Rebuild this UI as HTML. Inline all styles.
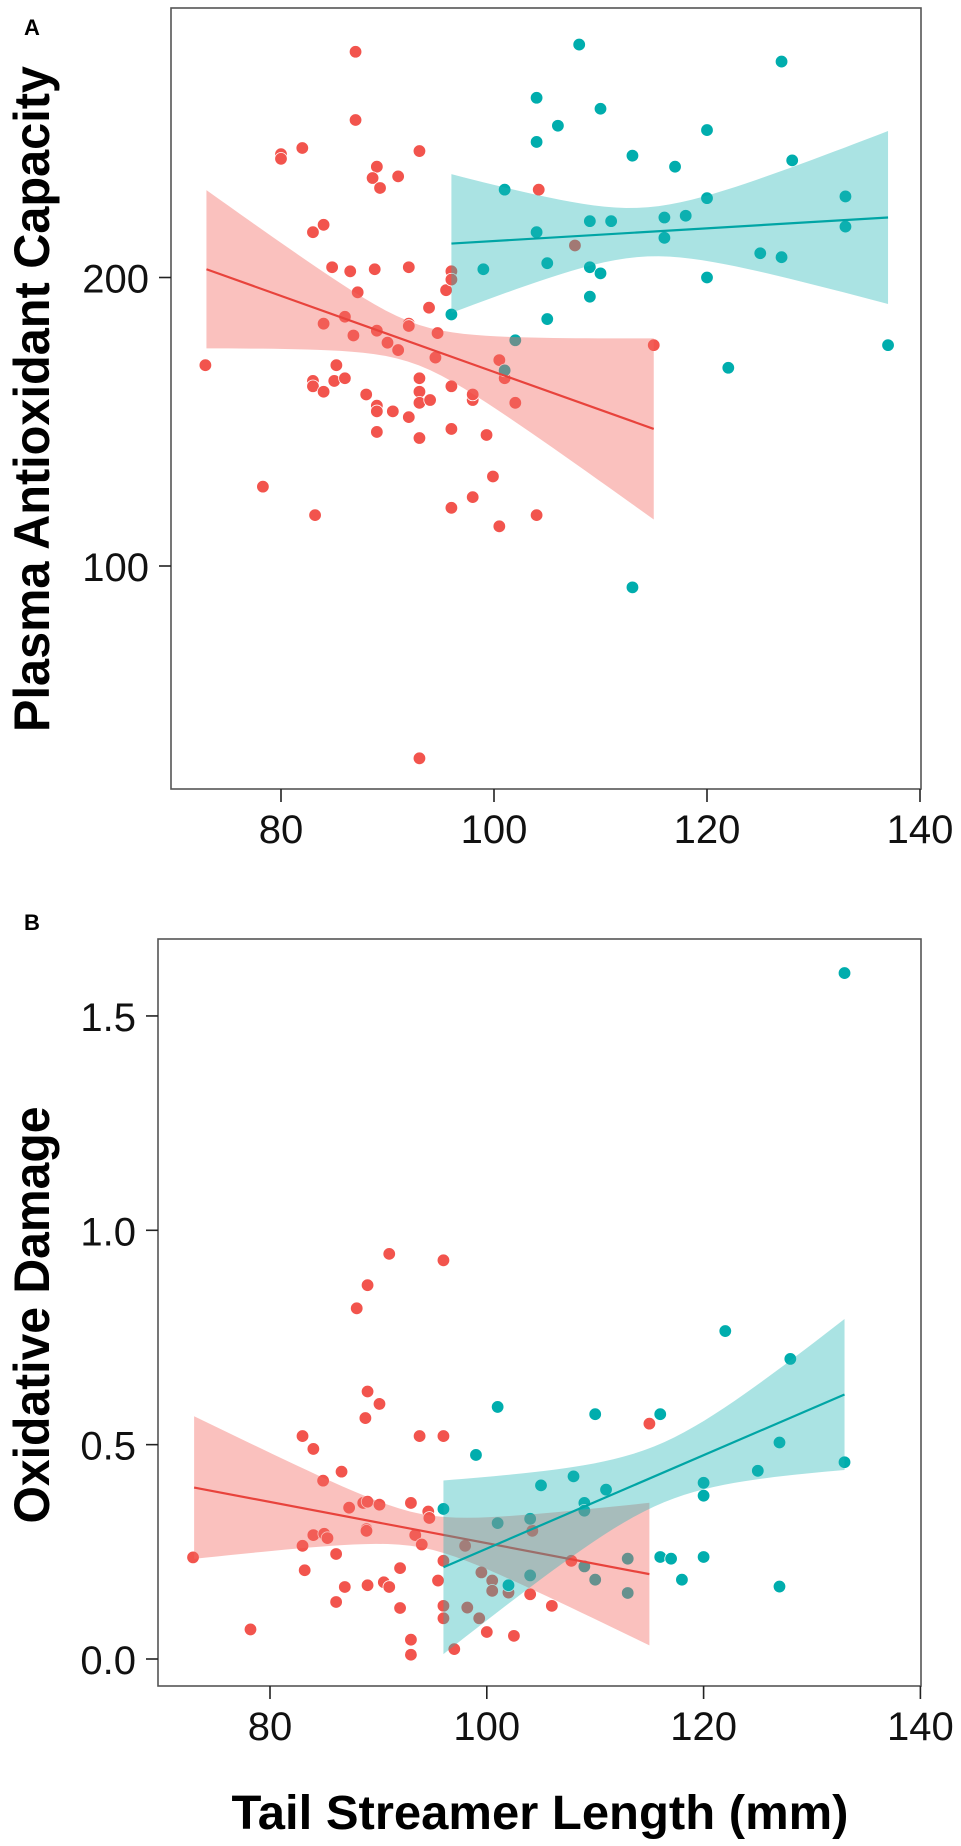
<!DOCTYPE html>
<html><head><meta charset="utf-8"><style>
html,body{margin:0;padding:0;background:#fff;}
svg{display:block;font-family:"Liberation Sans",sans-serif;}
</style></head><body>
<svg id="chart" width="961" height="1846" viewBox="0 0 961 1846" xmlns="http://www.w3.org/2000/svg">
<rect x="0" y="0" width="961" height="1846" fill="#fff"/>
<g id="panelA"></g>
<g id="panelB"></g>
<text x="24" y="35" font-size="22" font-weight="bold">A</text>
<text x="24" y="930" font-size="22" font-weight="bold">B</text>
<text transform="translate(49,399) rotate(-90)" text-anchor="middle" font-size="50" font-weight="bold" textLength="666" lengthAdjust="spacingAndGlyphs">Plasma Antioxidant Capacity</text>
<text transform="translate(49,1315) rotate(-90)" text-anchor="middle" font-size="50" font-weight="bold" textLength="417" lengthAdjust="spacingAndGlyphs">Oxidative Damage</text>
<text x="540" y="1829" text-anchor="middle" font-size="48" font-weight="bold" textLength="617" lengthAdjust="spacingAndGlyphs">Tail Streamer Length (mm)</text>
</svg>
<script>
// ---- Panel A data ----
const aRedX = [72.9,78.3,80,80,82,83,84,83.2,83,83,84,84,84.8,85.2,85,86,86,86.5,86.8,87.2,87,87,88,88.8,89,88.6,89.3,89,89,89,89,90,90.5,91,91,92,92,92,92,93,93,93,93,93,93,93.9,94,94.5,94.7,95.5,96,96,96,96,96,98,98,98,99.3,99.9,100.5,101,100.5,102,104.2,104,107.6,115];
const aRedY = [162,121,269,266,273,223,227,113,156,154,152,179,205,162,156,157,182,203,174,193,344,292,151,204,261,254,248,176,147,145,138,171,145,255,168,205,179,178,143,271,157,152,148,136,63,186,149,165,175,194,203,199,154,139,115,149,151,118,137,124,164,157,110,148,247,113,216,170];
const aTealX = [96,99,101,101,102,104,104,104,105,105,106,108,109,109,109,110,110,111,113,113,116,116,117,118,120,120,120,122,125,127,127,128,133,133,137];
const aTealY = [183,204,247,160,172,308,277,223,207,181,288,350,229,205,191,300,202,229,268,95,231,220,261,232,285,242,200,161,212,336,210,265,243,226,170];
const aYTicks = [100,200];
const xTicks = [80,100,120,140];
const aRedFit = [73,115,204,139]; const aRedBand = [92.5,0.07,0.0136];
const aTealFit = [96,137,217,231]; const aTealBand = [114,0.085,0.0125];
// ---- Panel B data ----
const bRedX = [72.9,78.2,83,84,84.9,86.6,83,83.2,84,85,85.3,86.1,86.1,86.9,87.3,88,89,89,88.8,90.1,88.6,89,90.1,88.9,88.9,89,90.5,91,91,92,92,93,93,93,93.4,93.8,94,94.6,94.7,95.5,96,96,96,96,96,97,98,98.2,99.5,99.3,100,100.5,100.5,102,102.5,104,104.2,106,107.8,115];
const bRedY = [0.237,0.069,0.52,0.49,0.416,0.437,0.264,0.207,0.289,0.292,0.282,0.245,0.133,0.168,0.353,0.818,0.872,0.624,0.562,0.595,0.364,0.367,0.36,0.303,0.299,0.172,0.179,0.168,0.945,0.212,0.119,0.364,0.045,0.01,0.289,0.52,0.267,0.344,0.329,0.183,0.93,0.52,0.229,0.124,0.095,0.023,0.264,0.12,0.202,0.095,0.063,0.183,0.159,0.155,0.054,0.151,0.299,0.124,0.229,0.549];
const bTealX = [96,99,101,101,102,104,104,105,108,109,109,109,110,110,111,113,113,116,116,117,118,120,120,120,122,125,127,127,128,133,133];
const bTealY = [0.35,0.476,0.588,0.317,0.172,0.327,0.195,0.405,0.426,0.364,0.346,0.216,0.571,0.185,0.395,0.234,0.154,0.571,0.238,0.234,0.185,0.411,0.381,0.238,0.765,0.439,0.505,0.169,0.7,1.6,0.459];
const bYTicks = [0,0.5,1,1.5];
const bYTickLabels = ["0.0","0.5","1.0","1.5"];
const bRedFit = [73,115,0.40,0.198]; const bRedBand = [94,0.039,0.0077];
const bTealFit = [96,133,0.214,0.617]; const bTealBand = [116,0.07,0.0095];

const NS="http://www.w3.org/2000/svg";
const RED="#F2544D", TEAL="#00ADAD";
function mk(parent,tag,attrs){const e=document.createElementNS(NS,tag);for(const k in attrs)e.setAttribute(k,attrs[k]);parent.appendChild(e);return e;}

const xA=x=>281+(x-80)*10.65;
const yA=v=>277.5-Math.log2(v/200)*288.5;
const xB=x=>270+(x-80)*10.84;
const yB=v=>1659-v*428.7;

function drawPanel(g,box,xs,ys,xTickVals,yTickVals,yLabels,red,teal,rFit,rBand,tFit,tBand,logY,xLabY){
  [[red[0],red[1],RED,'red-point'],[teal[0],teal[1],TEAL,'teal-point']].forEach(([X,Y,c,nm])=>{
    X.forEach((x,i)=>{
      const p=mk(g,'circle',{cx:xs(x),cy:ys(Y[i]),r:6.3,fill:c,stroke:'#fff','stroke-width':0.8});
      
      
    });
  });
  [[rFit,rBand,'#F26B63',0.42,'#E8433C','red'],[tFit,tBand,'#20B5B5',0.38,'#00A5A5','teal']].forEach(([f,b,fc,op,lc,nm])=>{
    const N=40, up=[], lo=[];
    const tr=logY?(v=>Math.log2(v)):(v=>v), inv=logY?(v=>Math.pow(2,v)):(v=>v);
    for(let i=0;i<=N;i++){
      const x=f[0]+(f[1]-f[0])*i/N;
      const c=tr(f[2])+(tr(f[3])-tr(f[2]))*(x-f[0])/(f[1]-f[0]);
      const h=Math.sqrt(b[1]*b[1]+Math.pow(b[2]*(x-b[0]),2));
      up.push(xs(x)+','+ys(inv(c+h)));
      lo.unshift(xs(x)+','+ys(inv(c-h)));
    }
    const band=mk(g,'polygon',{points:up.concat(lo).join(' '),fill:fc,'fill-opacity':op});
    
    
    const ln=mk(g,'line',{x1:xs(f[0]),y1:ys(f[2]),x2:xs(f[1]),y2:ys(f[3]),stroke:lc,'stroke-width':2.2});
    
    
  });
  const fr=mk(g,'rect',{x:box[0],y:box[1],width:box[2]-box[0],height:box[3]-box[1],fill:'none',stroke:'#555','stroke-width':1.6});
  
  
  xTickVals.forEach(t=>{
    const tk=mk(g,'line',{x1:xs(t),x2:xs(t),y1:box[3],y2:box[3]+13,stroke:'#222','stroke-width':1.6});
    
    
    const tl=mk(g,'text',{x:xs(t),y:xLabY,'text-anchor':'middle','font-size':40,fill:'#111'});
    tl.textContent=t;
    
    
  });
  yTickVals.forEach((t,i)=>{
    const tk=mk(g,'line',{x1:box[0]-12,x2:box[0],y1:ys(t),y2:ys(t),stroke:'#222','stroke-width':1.6});
    
    
    const tl=mk(g,'text',{x:box[0]-22,y:ys(t)+15,'text-anchor':'end','font-size':40,fill:'#111'});
    tl.textContent=yLabels[i];
    
    
  });
}
drawPanel(document.getElementById('panelA'),[171,8,921,789],xA,yA,xTicks,aYTicks,aYTicks.map(String),[aRedX,aRedY],[aTealX,aTealY],aRedFit,aRedBand,aTealFit,aTealBand,true,843);
drawPanel(document.getElementById('panelB'),[158,939,921,1686],xB,yB,xTicks,bYTicks,bYTickLabels,[bRedX,bRedY],[bTealX,bTealY],bRedFit,bRedBand,bTealFit,bTealBand,false,1740);
</script>
</body></html>
